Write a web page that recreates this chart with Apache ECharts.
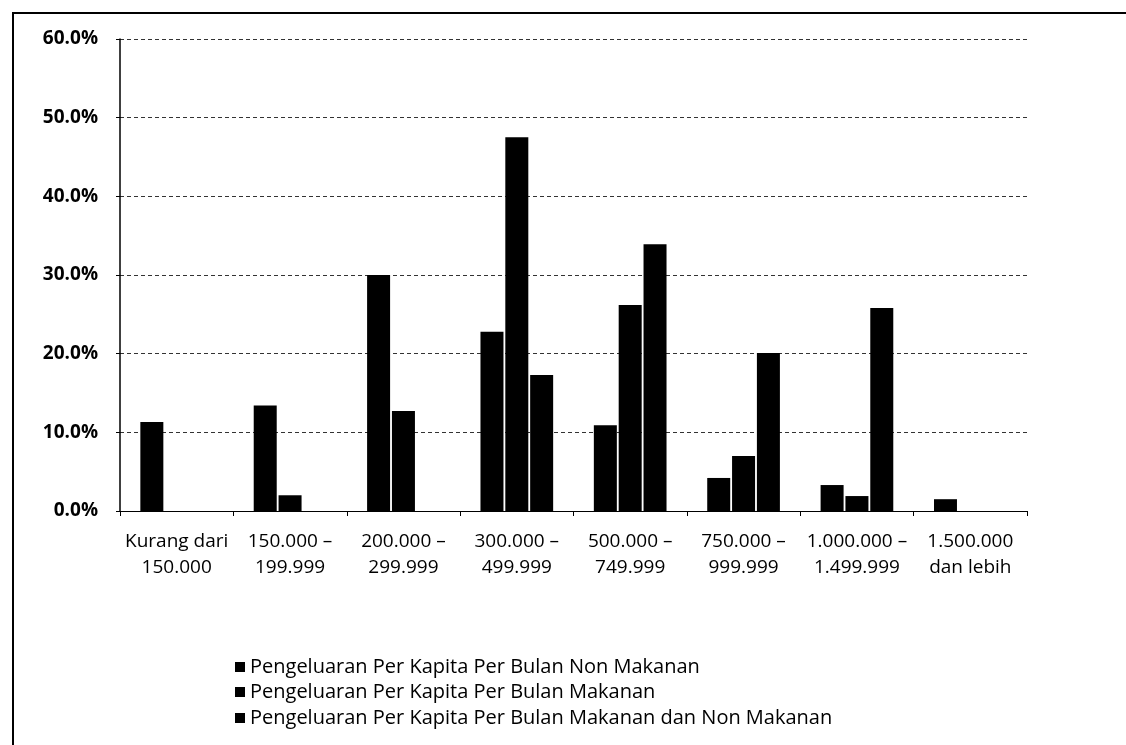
<!DOCTYPE html>
<html>
<head>
<meta charset="utf-8">
<script src="https://cdn.jsdelivr.net/npm/echarts@6/dist/echarts.min.js"></script>
<style>
  html, body { margin: 0; padding: 0; background: #fff; }
  #chart { width: 1126px; height: 745px; }
</style>
</head>
<body>
<div id="chart"></div>
<script>
const categories = [
  'Kurang dari\n150.000',
  '150.000 –\n199.999',
  '200.000 –\n299.999',
  '300.000 –\n499.999',
  '500.000 –\n749.999',
  '750.000 –\n999.999',
  '1.000.000 –\n1.499.999',
  '1.500.000\ndan lebih'
]

const seriesNames = [
  'Pengeluaran Per Kapita Per Bulan Non Makanan',
  'Pengeluaran Per Kapita Per Bulan Makanan',
  'Pengeluaran Per Kapita Per Bulan Makanan dan Non Makanan'
]

// percent values
const nonMakanan = [11.3, 13.4, 30.0, 22.8, 10.9, 4.2, 3.3, 1.5]
const makanan = [0, 2.0, 12.7, 47.5, 26.2, 7.0, 1.9, 0]
const makananNonMakanan = [0, 0, 0, 17.3, 33.9, 20.1, 25.8, 0]

const yTicks = [0, 10, 20, 30, 40, 50, 60]

const font = '"Open Sans", Lato, sans-serif'

const bar = (name, data) => ({
  name: name,
  type: 'bar',
  data: data,
  barWidth: 23,
  barGap: '8%',
  itemStyle: { color: '#000' }
})

// one legend per row so they stack like the original
const legendRow = (name, top) => ({
  orient: 'vertical',
  left: 230,
  top: top,
  itemWidth: 10,
  itemHeight: 10,
  icon: 'rect',
  textStyle: { fontFamily: font, fontSize: 20, color: '#000' },
  data: [name]
})

const chart = echarts.init(document.getElementById('chart'))
chart.setOption({
  animation: false,
  backgroundColor: '#fff',
  textStyle: { fontFamily: font, color: '#000' },
  graphic: [
    {
      type: 'polyline',
      shape: { points: [[13, 745], [13, 13], [1126, 13]] },
      style: { stroke: '#000', lineWidth: 2, fill: null }
    }
  ],
  grid: { left: 120, top: 39, right: 99, bottom: 234 },
  legend: [
    legendRow(seriesNames[0], 652),
    legendRow(seriesNames[1], 677),
    legendRow(seriesNames[2], 703)
  ],
  xAxis: {
    type: 'category',
    data: categories,
    axisLine: { lineStyle: { color: '#000', width: 1 } },
    axisTick: { show: true, length: 5, lineStyle: { color: '#000' } },
    axisLabel: {
      fontFamily: font,
      fontSize: 19,
      color: '#000',
      lineHeight: 26,
      margin: 18,
      interval: 0
    }
  },
  yAxis: {
    type: 'value',
    min: yTicks[0],
    max: yTicks[yTicks.length - 1],
    interval: 10,
    axisLine: { show: true, lineStyle: { color: '#000', width: 1.5 } },
    axisTick: { show: true, length: 4, lineStyle: { color: '#000' } },
    splitLine: { lineStyle: { color: '#333', type: [4, 3], width: 1 } },
    axisLabel: {
      fontFamily: font,
      fontSize: 19,
      fontWeight: 'bold',
      color: '#000',
      margin: 22,
      formatter: v => v.toFixed(1) + '%'
    }
  },
  series: [
    bar(seriesNames[0], nonMakanan),
    bar(seriesNames[1], makanan),
    bar(seriesNames[2], makananNonMakanan)
  ]
})
</script>
</body>
</html>
